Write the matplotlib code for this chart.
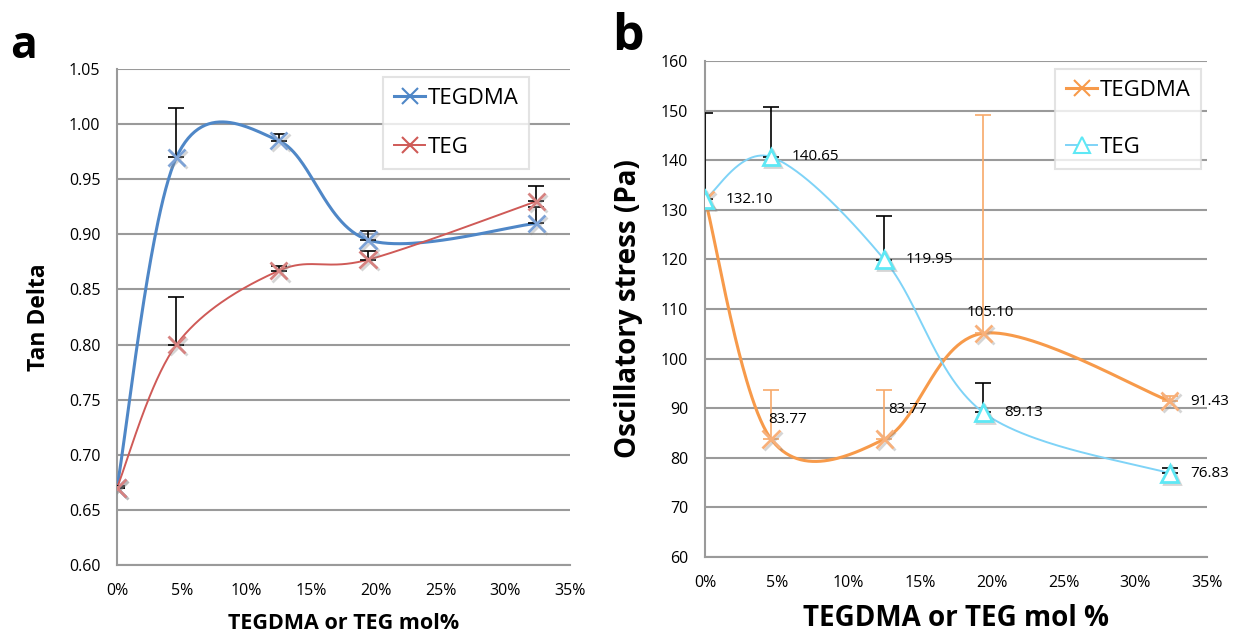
import matplotlib.pyplot as plt
import matplotlib.patheffects as pe
from matplotlib.ticker import FuncFormatter
import numpy as np

plt.rcParams['font.family'] = ['Open Sans', 'DejaVu Sans']

# mol% of TEGDMA / TEG in the mix
mol = [0.0, 4.6, 12.5, 19.4, 32.4]

# a: tan delta
tan_tegdma = [0.670, 0.970, 0.985, 0.895, 0.910]
tan_tegdma_err = [0.002, 0.045, 0.006, 0.008, 0.015]
tan_teg = [0.670, 0.800, 0.867, 0.877, 0.930]
tan_teg_err = [0.002, 0.043, 0.004, 0.008, 0.014]

# b: oscillatory stress (Pa)
osc_tegdma = [132.10, 83.77, 83.77, 105.10, 91.43]
osc_tegdma_err = [0.0, 9.9, 9.9, 44.1, 1.0]
osc_teg = [132.10, 140.65, 119.95, 89.13, 76.83]
osc_teg_err = [17.5, 10.0, 8.8, 5.9, 1.2]


def smooth(x, y, n=60):
    # Catmull-Rom style bezier, like the "smoothed line" option in Excel
    x = np.asarray(x, float)
    y = np.asarray(y, float)
    px = np.concatenate([[x[0]], x, [x[-1]]])
    py = np.concatenate([[y[0]], y, [y[-1]]])
    t = np.linspace(0, 1, n)
    xs, ys = [], []
    for i in range(1, len(px) - 2):
        b0 = np.array([px[i], py[i]])
        b3 = np.array([px[i + 1], py[i + 1]])
        b1 = b0 + (np.array([px[i + 1], py[i + 1]]) - np.array([px[i - 1], py[i - 1]])) / 6
        b2 = b3 - (np.array([px[i + 2], py[i + 2]]) - np.array([px[i], py[i]])) / 6
        c = ((1 - t) ** 3)[:, None] * b0 + (3 * (1 - t) ** 2 * t)[:, None] * b1 \
            + (3 * (1 - t) * t ** 2)[:, None] * b2 + (t ** 3)[:, None] * b3
        xs.append(c[:, 0])
        ys.append(c[:, 1])
    return np.concatenate(xs), np.concatenate(ys)


def style_axes(ax, ylim, yticks, yfmt):
    ax.set_xlim(0, 35)
    ax.set_ylim(*ylim)
    ax.set_xticks(range(0, 36, 5))
    ax.set_yticks(yticks)
    ax.xaxis.set_major_formatter(FuncFormatter(lambda v, p: '%d%%' % v))
    ax.yaxis.set_major_formatter(FuncFormatter(lambda v, p: yfmt % v))
    ax.grid(True, axis='y', color='#9a9a9a', linewidth=1.5)
    ax.set_axisbelow(True)
    for s in ['top', 'right']:
        ax.spines[s].set_visible(False)
    for s in ['left', 'bottom']:
        ax.spines[s].set_color('#9a9a9a')
        ax.spines[s].set_linewidth(1.5)
    ax.tick_params(length=0, labelsize=11.5)
    ax.tick_params(axis='y', pad=12)
    ax.tick_params(axis='x', pad=13)


def add_legend(ax, handles, anchor, spacing):
    leg = ax.legend(handles=handles, loc='upper left', bbox_to_anchor=anchor,
                    fontsize=16, frameon=True, fancybox=False, edgecolor='#dddddd',
                    labelspacing=spacing, handlelength=1.4, handletextpad=0.1,
                    borderpad=0.5, borderaxespad=0)
    leg.get_frame().set_linewidth(1.5)
    return leg


shadow = [pe.SimpleLineShadow(offset=(1.5, -1.5), shadow_color='#888888', alpha=0.35),
          pe.Normal()]
ebar = dict(fmt='none', elinewidth=1.2, capsize=6, capthick=1.2, zorder=4)

fig = plt.figure(figsize=(12.35, 6.34), dpi=100)

# ---- panel a ----
ax1 = fig.add_axes([0.0947, 0.1088, 0.3668, 0.7823])
style_axes(ax1, (0.60, 1.05), np.arange(0.60, 1.051, 0.05), '%.2f')

c_blue, c_red = '#4f87c7', '#cf5a57'
sx, sy = smooth(mol, tan_tegdma)
ax1.plot(sx, sy, color=c_blue, lw=2.2, zorder=3)
sx, sy = smooth(mol, tan_teg)
ax1.plot(sx, sy, color=c_red, lw=1.4, zorder=3)
ax1.errorbar(mol, tan_tegdma, yerr=[np.zeros(5), tan_tegdma_err], ecolor='black', **ebar)
ax1.errorbar(mol, tan_teg, yerr=[np.zeros(5), tan_teg_err], ecolor='black', **ebar)
ax1.plot(mol, tan_tegdma, 'x', color='#7ea3d6', ms=12.5, mew=2, zorder=5, path_effects=shadow)
ax1.plot(mol, tan_teg, 'x', color='#d68280', ms=12.5, mew=2, zorder=5, path_effects=shadow)

h1 = ax1.plot([], [], color=c_blue, lw=2.2, marker='x', ms=12, mew=1.5, label='TEGDMA')[0]
h2 = ax1.plot([], [], color=c_red, lw=1.4, marker='x', ms=12, mew=1.5, label='TEG')[0]
add_legend(ax1, [h1, h2], (0.587, 0.984), 1.25)

ax1.set_xlabel('TEGDMA or TEG mol%', fontsize=15.5, fontweight='bold', labelpad=10)
ax1.set_ylabel('Tan Delta', fontsize=16.5, fontweight='bold', labelpad=13)
fig.text(0.008, 1 - 58 / 634, 'a', fontsize=32, fontweight='bold', va='baseline')

# ---- panel b ----
ax2 = fig.add_axes([0.5709, 0.1215, 0.4065, 0.7823])
style_axes(ax2, (60, 160), range(60, 161, 10), '%d')

c_orange, c_cyan = '#f79a4a', '#7fd3f7'
sx, sy = smooth(mol, osc_tegdma)
ax2.plot(sx, sy, color=c_orange, lw=2.2, zorder=3)
sx, sy = smooth(mol, osc_teg)
ax2.plot(sx, sy, color=c_cyan, lw=1.4, zorder=3)
ax2.errorbar(mol, osc_tegdma, yerr=[np.zeros(5), osc_tegdma_err], ecolor='#f7a96a', **ebar)
ax2.errorbar(mol, osc_teg, yerr=[np.zeros(5), osc_teg_err], ecolor='black', **ebar)
ax2.plot(mol, osc_tegdma, 'x', color='#f8b07a', ms=12.5, mew=2, zorder=5, path_effects=shadow)
ax2.plot(mol, osc_teg, '^', color='#5ee8f5', mfc='white', ms=12, mew=2, zorder=5,
         path_effects=shadow)

# value labels; the shared 0% point is labelled once, by TEG
tegdma_off = [None, (12, 14), (17, 21.5), (5, 15), None]
for x, y, off in zip(mol, osc_tegdma, tegdma_off):
    if off is None:
        continue
    ax2.annotate('%.2f' % y, (x, y), xytext=off, textcoords='offset points',
                 fontsize=11, ha='center', va='center', zorder=6)
ax2.annotate('%.2f' % osc_tegdma[-1], (mol[-1], osc_tegdma[-1]), xytext=(15, 0),
             textcoords='offset points', fontsize=11, ha='left', va='center', zorder=6)
for x, y in zip(mol, osc_teg):
    ax2.annotate('%.2f' % y, (x, y), xytext=(15, 0), textcoords='offset points',
                 fontsize=11, ha='left', va='center', zorder=6)

h3 = ax2.plot([], [], color=c_orange, lw=2.2, marker='x', ms=12, mew=1.5, label='TEGDMA')[0]
h4 = ax2.plot([], [], color=c_cyan, lw=1.4, marker='^', mfc='white', mec='#5ee8f5',
              ms=11, mew=1.5, label='TEG')[0]
add_legend(ax2, [h3, h4], (0.697, 0.984), 1.6)

ax2.set_xlabel('TEGDMA or TEG mol %', fontsize=20, fontweight='bold', labelpad=9)
ax2.set_ylabel('Oscillatory stress (Pa)', fontsize=20, fontweight='bold', labelpad=13)
fig.text(0.496, 1 - 50 / 634, 'b', fontsize=36, fontweight='bold', va='baseline')

fig.savefig('out.png', dpi=100)
